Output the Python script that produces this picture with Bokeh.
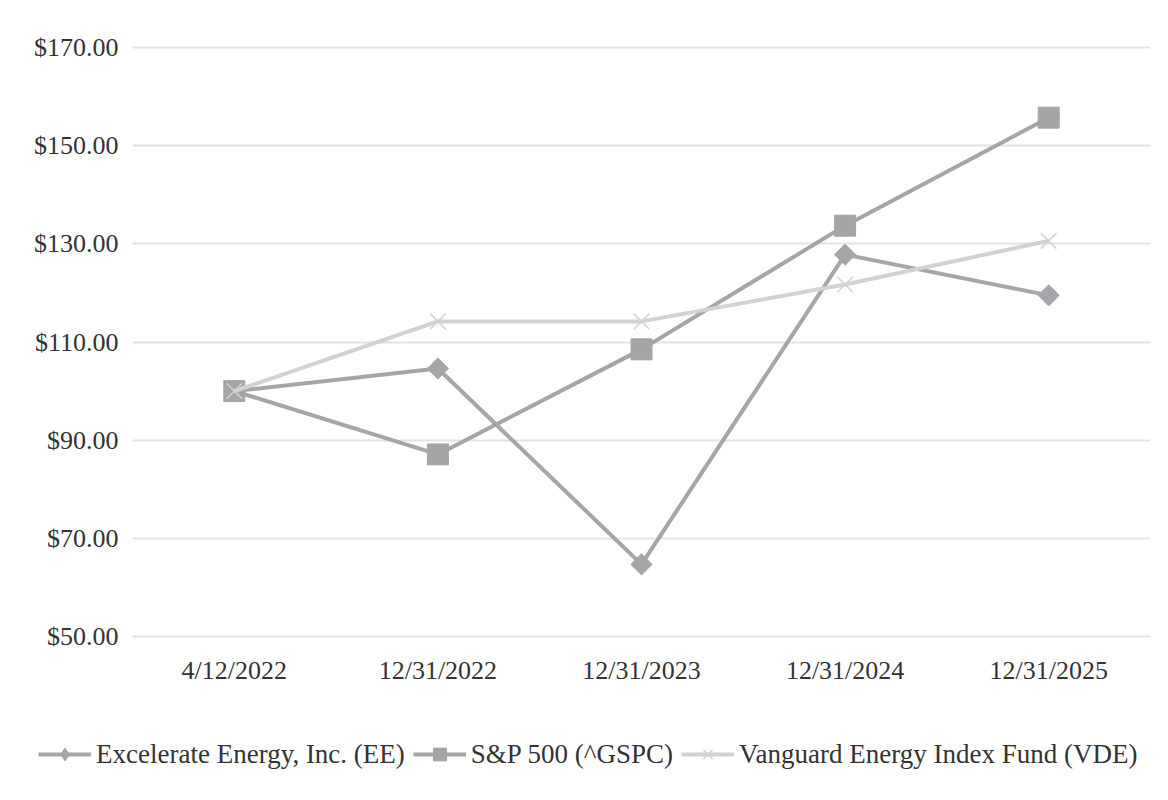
import math
from bokeh.plotting import figure
from bokeh.models import FactorRange, FixedTicker, Legend, LegendItem, CustomJSTickFormatter
from bokeh.embed import file_html
from bokeh.resources import INLINE

dates = ["4/12/2022", "12/31/2022", "12/31/2023", "12/31/2024", "12/31/2025"]
ee_values = [100.0, 104.6, 64.7, 127.8, 119.5]
spx_values = [100.0, 87.1, 108.5, 133.7, 155.7]
vde_values = [100.0, 114.2, 114.2, 121.7, 130.6]
y_ticks = [50, 70, 90, 110, 130, 150, 170]
series_names = ["Excelerate Energy, Inc. (EE)", "S&P 500 (^GSPC)", "Vanguard Energy Index Fund (VDE)"]

FONT = "Liberation Serif"
TEXT = "#333333"
FS = "26px"

c_ee = "#a6a6aa"
c_spx = "#a5a5a8"
c_vde = "#d2d2d2"

# ---------------- main chart ----------------
p = figure(width=1152, height=690, x_range=FactorRange(*dates), y_range=(49.6, 170.4),
           output_backend="svg", toolbar_location=None,
           min_border_left=132, min_border_right=2, min_border_top=45, min_border_bottom=52)
p.outline_line_color = None
p.background_fill_color = "white"
p.border_fill_color = "white"

p.xgrid.grid_line_color = None
p.ygrid.grid_line_color = "#e3e3e3"
p.ygrid.grid_line_width = 2

p.yaxis.ticker = FixedTicker(ticks=y_ticks)
p.yaxis.formatter = CustomJSTickFormatter(code="return '$' + tick.toFixed(2);")
for ax in (p.xaxis, p.yaxis):
    ax.axis_line_color = None
    ax.major_tick_line_color = None
    ax.minor_tick_line_color = None
    ax.major_tick_out = 0
    ax.major_tick_in = 0
    ax.major_label_text_font = FONT
    ax.major_label_text_font_size = FS
    ax.major_label_text_color = TEXT
p.yaxis.major_label_standoff = 14
p.xaxis.major_label_standoff = 17

p.line(dates, ee_values, line_color=c_ee, line_width=4)
p.scatter(dates, ee_values, marker="square", angle=math.pi / 4, size=15,
          fill_color=c_ee, line_color=c_ee)
p.line(dates, spx_values, line_color=c_spx, line_width=4)
p.scatter(dates, spx_values, marker="square", size=21, fill_color=c_spx, line_color=c_spx)
p.line(dates, vde_values, line_color=c_vde, line_width=4)
p.scatter(dates, vde_values, marker="x", size=22, line_color=c_vde, line_width=1.5)

# ---------------- legend strip (separate root, so its frame is not aligned) ----------------
lg = figure(width=1152, height=94, x_range=(0, 1), y_range=(0, 1),
            x_axis_location=None, y_axis_location=None,
            output_backend="svg", toolbar_location=None,
            min_border_left=0, min_border_right=0, min_border_top=0, min_border_bottom=0)
lg.grid.visible = False
lg.outline_line_color = None
lg.border_fill_color = "white"
lg.background_fill_color = "white"

off = [5, 6]
r1l = lg.line(off, off, line_color=c_ee, line_width=4)
r1m = lg.scatter(off, off, marker="diamond", size=12, fill_color=c_ee, line_color=c_ee)
r2l = lg.line(off, off, line_color=c_spx, line_width=4)
r2m = lg.scatter(off, off, marker="square", size=12, fill_color=c_spx, line_color=c_spx)
r3l = lg.line(off, off, line_color=c_vde, line_width=4)
r3m = lg.scatter(off, off, marker="x", size=12, line_color=c_vde, line_width=1.5)

legend = Legend(items=[
    LegendItem(label=series_names[0], renderers=[r1l, r1m]),
    LegendItem(label=series_names[1], renderers=[r2l, r2m]),
    LegendItem(label=series_names[2], renderers=[r3l, r3m]),
], orientation="horizontal", location=(38, 14))
legend.label_text_font = FONT
legend.label_text_font_size = "27px"
legend.label_text_color = TEXT
legend.glyph_width = 53
legend.glyph_height = 32
legend.label_standoff = 5
legend.spacing = 8
legend.border_line_color = None
legend.background_fill_alpha = 0
legend.margin = 0
legend.padding = 4
lg.add_layout(legend, "center")

open("out.html", "w").write(file_html([p, lg], INLINE))
